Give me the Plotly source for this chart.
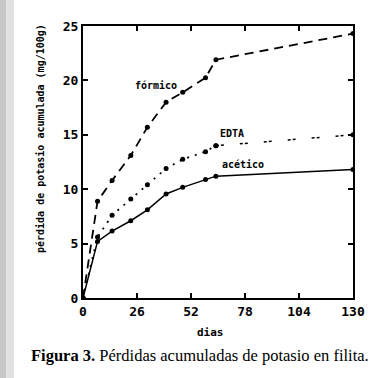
import plotly.graph_objects as go

dias = [0, 7, 14, 23, 31, 40, 48, 59, 64, 130]
formico = [0, 8.9, 10.8, 13.1, 15.7, 18.0, 18.9, 20.25, 21.9, 24.3]
edta = [0, 5.6, 7.6, 9.1, 10.4, 11.9, 12.75, 13.45, 14.0, 15.0]
acetico = [0, 5.2, 6.15, 7.1, 8.1, 9.56, 10.17, 10.9, 11.2, 11.8]

x_ticks = [0, 26, 52, 78, 104, 130]
y_ticks = [0, 5, 10, 15, 20, 25]

MONO = "DejaVu Sans Mono"

fig = go.Figure()
fig.add_trace(go.Scatter(x=dias, y=formico, mode="lines+markers",
                         line=dict(color="black", width=1.8, dash="9px,6px"),
                         marker=dict(color="black", size=5)))
fig.add_trace(go.Scatter(x=dias[:-1], y=edta[:-1], mode="lines+markers",
                         line=dict(color="black", width=1.8, dash="2px,6px"),
                         marker=dict(color="black", size=5)))
fig.add_trace(go.Scatter(x=dias[-2:], y=edta[-2:], mode="lines+markers",
                         line=dict(color="black", width=1.5, dash="3px,2px,3px,16px"),
                         marker=dict(color="black", size=5)))
fig.add_trace(go.Scatter(x=dias, y=acetico, mode="lines+markers",
                         line=dict(color="black", width=1.5),
                         marker=dict(color="black", size=5)))

axis_common = dict(showline=True, linecolor="black", linewidth=2, mirror="ticks",
                   ticks="inside", ticklen=5, tickwidth=1.5, tickcolor="black",
                   showgrid=False, zeroline=False,
                   tickfont=dict(family=MONO, size=13, color="black", weight="bold"))

fig.update_xaxes(range=[0, 130], tickvals=x_ticks, ticktext=[str(v) for v in x_ticks],
                 **axis_common)
fig.update_yaxes(range=[0, 25], tickvals=y_ticks, ticktext=[str(v) for v in y_ticks],
                 **axis_common)

L, R, T, B = 83, 28, 26, 80
W, H = 381, 378
pw, ph = W - L - R, H - T - B

def px(xp):
    return (xp - L) / pw

def py(yp):
    return 1 - (yp - T) / ph

def note(text, x, y, font, angle=0):
    fig.add_annotation(text=text, x=px(x), y=py(y), xref="paper", yref="paper",
                       xanchor="center", yanchor="middle", showarrow=False,
                       textangle=angle, font=font)

lbl_font = dict(family=MONO, size=10, color="black", weight="bold")
note("fórmico", 156, 85, lbl_font)
note("EDTA", 232, 134, lbl_font)
note("acético", 243, 164, lbl_font)
note("dias", 210, 332, dict(family=MONO, size=11, color="black", weight="bold"))
note("pérdida de potasio acumulada (mg/100g)", 40, 139,
     dict(family=MONO, size=10, color="black", weight="bold"), angle=-90)
note("<b>Figura 3.</b> Pérdidas acumuladas de potasio en filita.", 200, 355,
     dict(family="Liberation Serif", size=16.5, color="black"))

# scanned-page shading at left edge
fig.add_shape(type="rect", x0=px(0), x1=px(6), y0=py(0), y1=py(378), xref="paper", yref="paper",
              fillcolor="#c8c8c8", line=dict(width=0), layer="below")
fig.add_shape(type="rect", x0=px(6), x1=px(14), y0=py(0), y1=py(378), xref="paper", yref="paper",
              fillcolor="#e2e2e2", line=dict(width=0), layer="below")

fig.update_layout(width=W, height=H, margin=dict(l=L, r=R, t=T, b=B),
                  paper_bgcolor="white", plot_bgcolor="white", showlegend=False)

fig.write_html("out.html", config={"displayModeBar": False},
               post_script="document.body.style.margin='0px';document.body.style.overflow='hidden';")
